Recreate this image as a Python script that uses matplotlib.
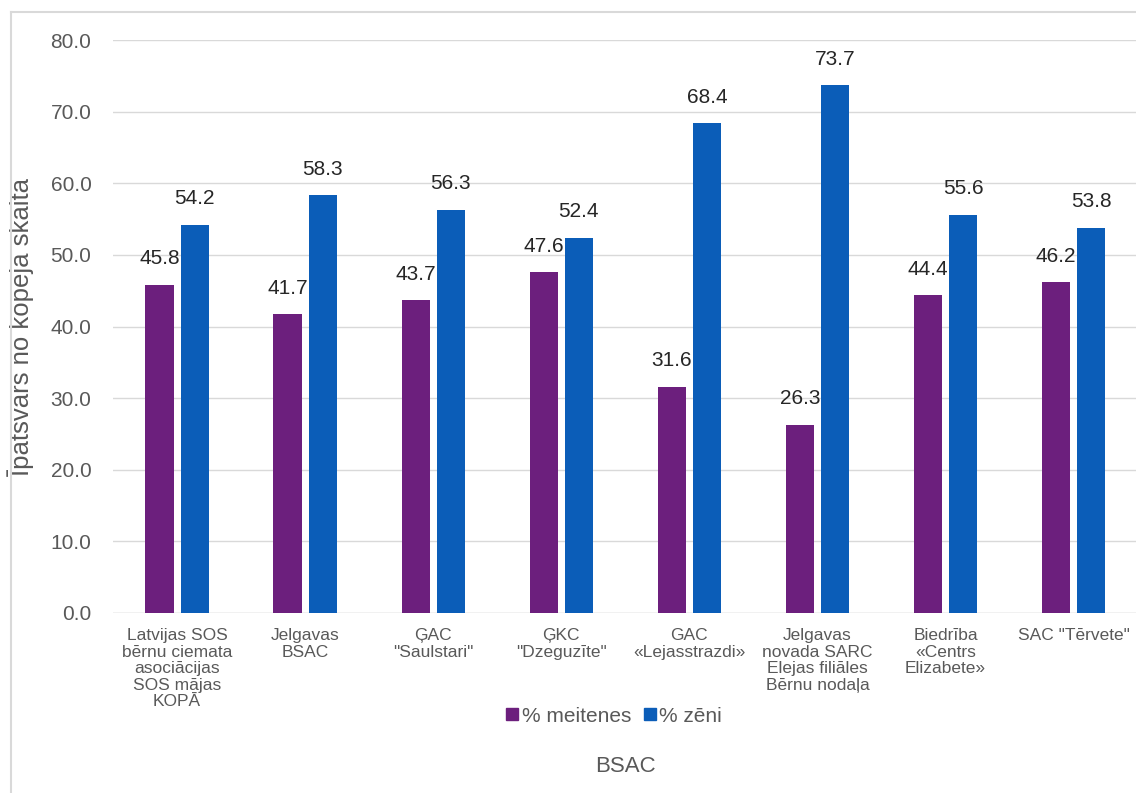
import numpy as np
import matplotlib.pyplot as plt
from matplotlib.lines import Line2D

plt.rcParams['font.family'] = ['Liberation Sans', 'DejaVu Sans']

# data
categories = [
    'Latvijas SOS\nbērnu ciemata\nasociācijas\nSOS mājas\nKOPĀ',
    'Jelgavas\nBSAC',
    'ĢAC\n"Saulstari"',
    'ĢKC\n"Dzeguzīte"',
    'GAC\n«Lejasstrazdi»',
    'Jelgavas\nnovada SARC\nElejas filiāles\nBērnu nodaļa',
    'Biedrība\n«Centrs\nElizabete»',
    'SAC "Tērvete"',
]
girls = [45.8, 41.7, 43.7, 47.6, 31.6, 26.3, 44.4, 46.2]
boys = [54.2, 58.3, 56.3, 52.4, 68.4, 73.7, 55.6, 53.8]
series_names = ['% meitenes', '% zēni']
yticks = [0, 10, 20, 30, 40, 50, 60, 70, 80]

purple = '#6C1F7D'
blue = '#0B5DB8'
grid_col = '#D9D9D9'
text_grey = '#595959'

fig = plt.figure(figsize=(11.36, 7.93), dpi=100)
ax = fig.add_axes([113 / 1136, 180 / 793, 0.902, 573 / 793])

x = np.arange(len(categories))
w = 0.22
off = 0.137
b1 = ax.bar(x - off, girls, w, color=purple, zorder=3)
b2 = ax.bar(x + off, boys, w, color=blue, zorder=3)

# value labels above bars
for bars, vals in ((b1, girls), (b2, boys)):
    for rect, v in zip(bars, vals):
        ax.text(rect.get_x() + rect.get_width() / 2, v + 2.3, f'{v:.1f}',
                ha='center', va='bottom', fontsize=15, color='#262626')

ax.set_xlim(-0.5, 7.5)
ax.set_ylim(0, 80)
ax.set_yticks(yticks)
ax.set_yticklabels([f'{t:.1f}' for t in yticks], fontsize=15, color=text_grey)
ax.set_xticks(x)
ax.set_xticklabels(categories, fontsize=12.5, color=text_grey, linespacing=1.12)
ax.tick_params(axis='both', length=0)
ax.tick_params(axis='y', pad=15.5)
ax.tick_params(axis='x', pad=11)
ax.yaxis.grid(True, color=grid_col, linewidth=1, zorder=0)
for s in ax.spines.values():
    s.set_visible(False)
ax.axhline(0, color=grid_col, linewidth=1, zorder=2)

ax.set_ylabel('Īpatsvars no kopējā skaita', fontsize=18.5, color=text_grey)
ax.yaxis.set_label_coords(-0.077, 0.5)

handles = [Line2D([], [], marker='s', linestyle='', color=purple, markersize=9),
           Line2D([], [], marker='s', linestyle='', color=blue, markersize=9)]
fig.legend(handles, series_names, loc='center', bbox_to_anchor=(613 / 1136, 1 - 716 / 793),
           ncol=2, frameon=False, fontsize=15, handletextpad=0.05, columnspacing=0.5,
           labelcolor=text_grey, handlelength=0.8)

fig.text(625 / 1136, 1 - 766 / 793, 'BSAC', ha='center', va='center',
         fontsize=16, color=text_grey)

# outer chart border (only top/left visible in the reference)
fig.add_artist(Line2D([11 / 1136, 11 / 1136], [0, 1 - 12 / 793], color='#D9D9D9',
                      linewidth=1.5, transform=fig.transFigure))
fig.add_artist(Line2D([11 / 1136, 1], [1 - 12 / 793, 1 - 12 / 793], color='#D9D9D9',
                      linewidth=1.5, transform=fig.transFigure))

fig.savefig('out.png', dpi=100, facecolor='white')
